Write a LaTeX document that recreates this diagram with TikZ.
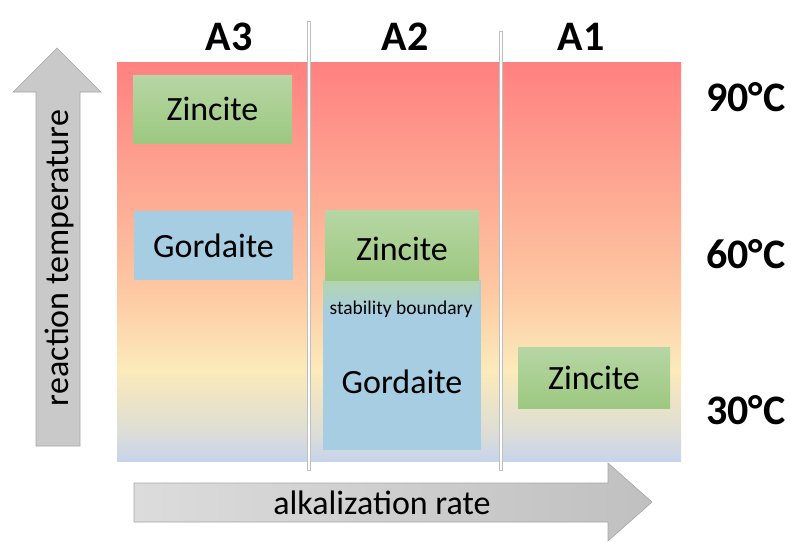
\documentclass[tikz,border=0pt]{standalone}
\usepackage{fontspec}
\setmainfont{Carlito}
\begin{document}
\begin{tikzpicture}[x=1pt,y=-1pt,
  txt/.style={inner sep=0pt,font=\fontsize{34}{40}\selectfont},
  head/.style={inner sep=0pt,font=\fontsize{42}{48}\selectfont\bfseries},
  zinc/.style={top color=zTop,bottom color=zBot,draw=none},
  gord/.style={fill=gBlue,draw=none},
  sep/.style={draw=black!25,fill=white,line width=0.4pt},
  blockarrow/.style={draw=black!35,line width=0.6pt}
]
\definecolor{c1}{RGB}{255,128,128}
\definecolor{c2}{RGB}{253,200,162}
\definecolor{c3}{RGB}{252,234,186}
\definecolor{c4}{RGB}{222,222,212}
\definecolor{c5}{RGB}{200,212,236}
\definecolor{zTop}{RGB}{182,214,164}
\definecolor{zBot}{RGB}{157,200,128}
\definecolor{gBlue}{RGB}{166,205,226}
\definecolor{arrL}{RGB}{220,220,220}
\definecolor{arrR}{RGB}{192,192,192}
\useasboundingbox (0,0) rectangle (791,541);
% background gradient
\fill[top color=c1,bottom color=c2] (117,62) rectangle (681,290);
\fill[top color=c2,bottom color=c3] (117,289.5) rectangle (681,370);
\fill[top color=c3,bottom color=c4] (117,369.5) rectangle (681,430);
\fill[top color=c4,bottom color=c5] (117,429.5) rectangle (681,461);
% separators
\filldraw[sep] (307.5,21) rectangle (310.5,470);
\filldraw[sep] (499.5,31) rectangle (502.5,470);
% headers
\node[head] (a3) at (229,37) {A3};
\node[head] (a2) at (405,37) {A2};
\node[head] (a1) at (581,37) {A1};
\node[head,anchor=west] (t90) at (706,97) {90°C};
\node[head,anchor=west] (t60) at (706,254) {60°C};
\node[head,anchor=west] (t30) at (706,410) {30°C};
% boxes
\fill[zinc] (133,75) rectangle (292,143);
\node[txt] (z1) at (212.5,109) {Zincite};
\fill[gord] (134,211) rectangle (293,280);
\node[txt] (g1) at (213.5,246) {Gordaite};
\fill[gord] (323,280) rectangle (481,450);
\fill[top color=zTop!85!gBlue,bottom color=gBlue] (323,280) rectangle (479,313);
\fill[zinc] (325,210) rectangle (479,280);
\node[txt] (z2) at (402,249) {Zincite};
\node[inner sep=0pt,font=\fontsize{19.5}{22}\selectfont] (sb) at (401,309) {stability boundary};
\node[txt] (g2) at (402,382) {Gordaite};
\fill[zinc] (518,347) rectangle (670,408);
\node[txt] (z3) at (594,378) {Zincite};
% up arrow
\path[blockarrow,fill=black!21] (36,446) -- (36,92) -- (13,92) -- (57,48) -- (101,92) -- (80,92) -- (80,446) -- cycle;
\node[txt,rotate=90] (rt) at (59,258) {reaction temperature};
% right arrow
\path[blockarrow,left color=arrL,right color=arrR] (134,483) -- (608,483) -- (608,463) -- (652,502) -- (608,541) -- (608,522) -- (134,522) -- cycle;
\node[txt] (ar) at (382,503) {alkalization rate};
\end{tikzpicture}
\end{document}
